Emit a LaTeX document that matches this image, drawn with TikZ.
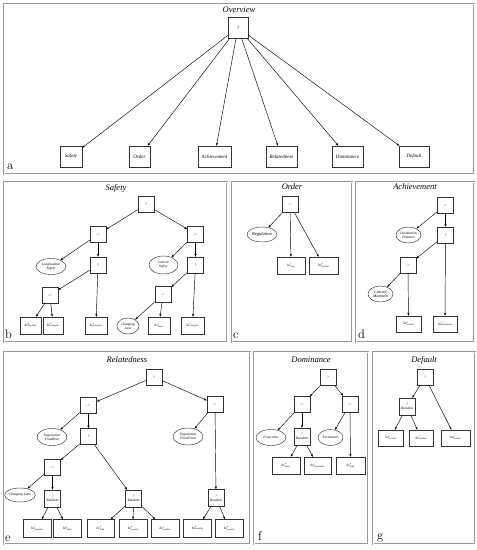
\documentclass[tikz,border=0pt]{standalone}
\usepackage{fontspec}
\newfontfamily\tnr{Liberation Serif}
\usetikzlibrary{arrows.meta,shapes.geometric}
\newcommand{\bcl}[2]{\textit{bc}\makebox[0pt][l]{\raisebox{1.3pt}{\fontsize{2.4}{2.6}\selectfont\textit{#1}}}\raisebox{-0.9pt}{\fontsize{2.4}{2.6}\selectfont\textit{#2}}}
\tikzset{
  frame/.style={draw=gray!80, line width=0.5pt, double=white, double distance=0.6pt},
  ttl/.style={font=\tnr\itshape\fontsize{8.5}{9}\selectfont, inner sep=0pt},
  lbl/.style={font=\fontsize{12.5}{13}\selectfont, anchor=base west, inner sep=0pt},
  ov/.style={draw=gray!40!black, line width=0.5pt, minimum height=21pt, minimum width=20pt, inner sep=1pt, font=\tnr\itshape\fontsize{5}{6}\selectfont},
  bx/.style={draw=gray!40!black, line width=0.45pt, minimum width=16pt, minimum height=16pt, inner sep=0.5pt, font=\tnr\itshape\fontsize{3.5}{4}\selectfont, align=center},
  lf/.style={bx, minimum height=17pt},
  cd/.style={ellipse, draw=gray!40!black, line width=0.45pt, inner sep=0pt, minimum width=30pt, minimum height=16pt, font=\tnr\itshape\fontsize{3.5}{4}\selectfont, align=center},
  ar/.style={-{Stealth[length=3pt,width=2.2pt]}, line width=0.45pt},
}
\begin{document}
\begin{tikzpicture}[x=1pt,y=-1pt]
\useasboundingbox (0,0) rectangle (477,550);
\fill[white] (0,0) rectangle (477,550);
% frames
\draw[frame] (4,4) rectangle (474,174);
\draw[frame] (4,182) rectangle (227,342);
\draw[frame] (232,182) rectangle (352,342);
\draw[frame] (356,182) rectangle (474,342);
\draw[frame] (4,352) rectangle (250,544);
\draw[frame] (254,352) rectangle (368,544);
\draw[frame] (373,352) rectangle (475,544);
% titles
\node[ttl] (tA) at (239,10) {Overview};
\node[ttl] (tB) at (116,188) {Safety};
\node[ttl] (tC) at (292,187) {Order};
\node[ttl] (tD) at (415,187) {Achievement};
\node[ttl] (tE) at (127,360) {Relatedness};
\node[ttl] (tF) at (311,360) {Dominance};
\node[ttl] (tG) at (424,360) {Default};
% letters
\node[lbl] (la) at (7,169) {a};
\node[lbl] (lb) at (5,338) {b};
\node[lbl] (lc) at (233,338) {c};
\node[lbl] (ld) at (358,338) {d};
\node[lbl] (le) at (5,541) {e};
\node[lbl] (lf) at (258,540) {f};
\node[lbl] (lg) at (377,539) {g};
% Overview
\node[ov] (v0) at (238,27.5) {?};
\node[ov, minimum width=22pt] (v1) at (71,156.5) {Safety};
\node[ov, minimum width=21pt] (v2) at (139.5,156.5) {Order};
\node[ov, minimum width=33pt] (v3) at (214.5,156.5) {Achievement};
\node[ov, minimum width=31pt] (v4) at (281.5,156.5) {Relatedness};
\node[ov, minimum width=31pt] (v5) at (347.5,156.5) {Dominance};
\node[ov, minimum width=30pt] (v6) at (414,156.5) {Default};
\foreach \b in {v1,v2,v3,v4,v5,v6} \draw[ar] (v0) -- (\b);
% Safety
\node[bx] (s0) at (146,204.5) {?};
\node[bx] (s1) at (98,234.5) {->};
\node[bx] (s2) at (195.5,234) {->};
\node[cd] (sLo) at (51,266.5) {Longitudinal\\Safety};
\node[bx] (s3) at (98,265) {?};
\node[cd, minimum width=29pt, minimum height=18pt] (sLa) at (163.5,265) {Lateral\\Safety};
\node[bx] (s4) at (195.5,265) {?};
\node[bx] (s5) at (50,295) {->};
\node[bx] (s6) at (163,294.5) {->};
\node[lf, minimum width=21pt] (s7) at (30.5,325.5) {\bcl{u}{headway}};
\node[lf, minimum width=20pt] (s8) at (53,325.5) {\bcl{u}{emergent}};
\node[lf, minimum width=22pt] (s9) at (96,325.5) {\bcl{u}{emergent}};
\node[cd, minimum width=22pt] (sCL) at (128,326) {Changing\\Lane};
\node[lf, minimum width=22pt] (s10) at (159,325.5) {\bcl{l}{abort}};
\node[lf, minimum width=23pt] (s11) at (192.5,325.5) {\bcl{u}{emergent}};
\foreach \a/\b in {s0/s1,s0/s2,s1/sLo,s1/s3,s3/s5,s3/s9,s5/s7,s5/s8,s2/sLa,s2/s4,s4/s6,s4/s11,s6/sCL,s6/s10} \draw[ar] (\a) -- (\b);
% Order
\node[bx] (o0) at (290,204.5) {->};
\node[cd, minimum height=15pt, font=\tnr\itshape\fontsize{4.5}{5}\selectfont] (oR) at (262,234.5) {Regulation};
\node[lf, minimum width=28pt] (o1) at (291,265.5) {\bcl{l}{stop}};
\node[lf, minimum width=29pt] (o2) at (323.5,265.5) {\bcl{u}{normal}};
\foreach \b in {oR,o1,o2} \draw[ar] (o0) -- (\b);
% Achievement
\node[bx] (a0) at (445.5,205) {->};
\node[cd, minimum width=25pt] (aDD) at (408.5,235) {Destination\\Distance};
\node[bx] (a1) at (445.5,235) {?};
\node[bx] (a2) at (408,265) {->};
\node[cd, minimum width=25pt, font=\tnr\itshape\fontsize{4}{4.5}\selectfont] (aCM) at (380.5,294) {Current\\Maintain};
\node[lf, minimum width=25pt, minimum height=16pt] (a3) at (408.5,324) {\bcl{u}{normal}};
\node[lf, minimum width=24pt, minimum height=16pt] (a4) at (445,324) {\bcl{l}{destination}};
\foreach \a/\b in {a0/aDD,a0/a1,a1/a2,a1/a4,a2/aCM,a2/a3} \draw[ar] (\a) -- (\b);
% Relatedness
\node[bx] (r0) at (154,377) {?};
\node[bx] (r1) at (88.5,405) {->};
\node[bx] (r2) at (215,404) {->};
\node[cd, minimum height=17pt] (rNR) at (52,437) {Negotiation\\FromRear};
\node[bx] (r3) at (88.5,436.5) {?};
\node[cd, minimum height=17pt] (rNF) at (188,436.5) {Negotiation\\FromFront};
\node[bx] (r4) at (52.5,467) {->};
\node[cd, minimum width=26pt, minimum height=14pt] (rCL) at (20,495) {Changing Lane};
\node[bx, minimum height=17pt] (r5) at (52.5,498.5) {?\\Random};
\node[bx, minimum height=17pt] (r6) at (133.5,498.5) {?\\Random};
\node[bx, minimum height=17pt] (r7) at (216,498) {?\\Random};
\node[lf, minimum width=28pt, minimum height=18pt] (r8) at (37,528.5) {\bcl{l}{delegate}};
\node[lf, minimum width=28pt, minimum height=18pt] (r9) at (67.5,528.5) {\bcl{l}{abort}};
\node[lf, minimum width=27pt, minimum height=18pt] (r10) at (100.5,528.5) {\bcl{u}{limit}};
\node[lf, minimum width=28pt, minimum height=18pt] (r11) at (133,528.5) {\bcl{u}{normal}};
\node[lf, minimum width=28pt, minimum height=18pt] (r12) at (165,528.5) {\bcl{l}{random}};
\node[lf, minimum width=28pt, minimum height=18pt] (r13) at (197.5,528.5) {\bcl{u}{morality}};
\node[lf, minimum width=28pt, minimum height=18pt] (r14) at (229,528.5) {\bcl{u}{normal}};
\foreach \a/\b in {r0/r1,r0/r2,r1/rNR,r1/r3,r3/r4,r3/r6,r4/rCL,r4/r5,r5/r8,r5/r9,r6/r10,r6/r11,r6/r12,r2/rNF,r2/r7,r7/r13,r7/r14} \draw[ar] (\a) -- (\b);
% Dominance
\node[bx] (d0) at (328,377.5) {?};
\node[bx] (d1) at (302,404.5) {->};
\node[bx] (d2) at (350,404) {->};
\node[cd] (dFS) at (271,437.5) {Front slow};
\node[bx, minimum height=17pt] (d3) at (302,436.5) {?\\Random};
\node[cd, minimum width=25pt] (dEx) at (330.5,437.5) {Excitement};
\node[lf, minimum width=28pt] (d4) at (286,465.5) {\bcl{u}{abort}};
\node[lf, minimum width=27pt] (d5) at (317.5,465.5) {\bcl{l}{excitement}};
\node[lf, minimum width=29pt] (d6) at (350.5,465.5) {\bcl{u}{limit}};
\foreach \a/\b in {d0/d1,d0/d2,d1/dFS,d1/d3,d3/d4,d3/d5,d2/dEx,d2/d6} \draw[ar] (\a) -- (\b);
% Default
\node[bx] (g0) at (425,377) {?};
\node[bx, minimum height=17pt] (g1) at (407,406.5) {?\\Random};
\node[lf, minimum width=25pt, minimum height=16pt] (g2) at (390.5,438) {\bcl{u}{normal}};
\node[lf, minimum width=24pt, minimum height=16pt] (g3) at (421,438) {\bcl{l}{random}};
\node[lf, minimum width=29pt, minimum height=16pt] (g4) at (455.5,438) {\bcl{u}{normal}};
\foreach \a/\b in {g0/g1,g0/g4,g1/g2,g1/g3} \draw[ar] (\a) -- (\b);
\end{tikzpicture}
\end{document}
